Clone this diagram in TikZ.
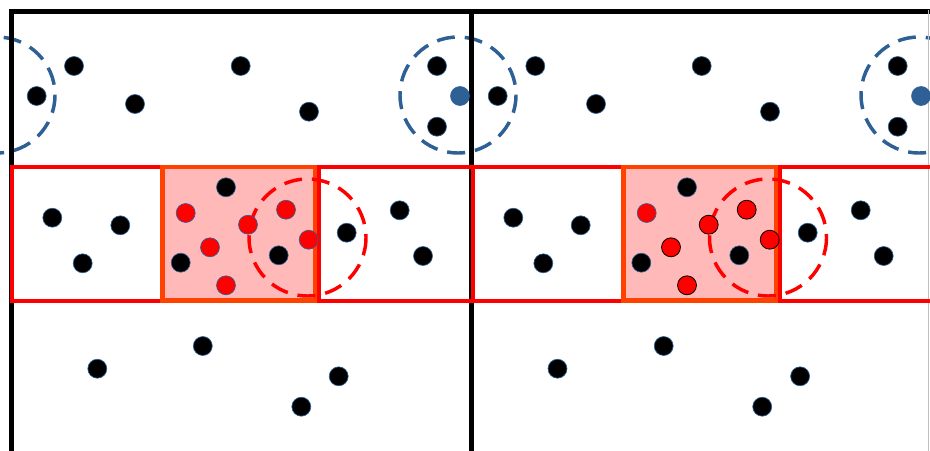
\documentclass[tikz,border=0pt]{standalone}
\usetikzlibrary{calc}
\definecolor{dotblue}{HTML}{2E6096}
\definecolor{bandred}{HTML}{FF0000}
\definecolor{midedge}{HTML}{FF4200}
\definecolor{midfill}{HTML}{FFB9B9}
\tikzset{
  frameline/.style={line width=4.4pt, black},
  bandbox/.style={draw=bandred, line width=3pt},
  midbox/.style={draw=midedge, fill=midfill, line width=3.4pt},
  bluering/.style={draw=dotblue, line width=2.6pt, dash pattern=on 13.5pt off 7.5pt},
  redring/.style={draw=bandred, line width=2.6pt, dash pattern=on 13.5pt off 7.5pt},
  blackdot/.style={circle, fill=black, draw=dotblue, line width=0.5pt, inner sep=0pt, minimum size=14.2pt},
  reddot/.style={circle, fill=bandred, draw=dotblue, line width=0.5pt, inner sep=0pt, minimum size=14.2pt},
  reddotk/.style={circle, fill=bandred, draw=black, line width=0.6pt, inner sep=0pt, minimum size=14.2pt},
  bluedot/.style={circle, fill=dotblue, draw=dotblue, line width=0.5pt, inner sep=0pt, minimum size=14.2pt},
}
\begin{document}
\begin{tikzpicture}[x=0.75pt,y=-0.75pt]
\useasboundingbox (0,0) rectangle (930,450);
\clip (0,0) rectangle (930,450);
\fill[white] (0,0) rectangle (930,450);
% dashed blue rings (under the frame)
\draw[bluering] (-3,95) circle[radius=58];
\draw[bluering] (458,95) circle[radius=58];
\draw[bluering] (919,95) circle[radius=58];
% outer frame
\draw[frameline, line join=miter] (11.5,452) -- (11.5,11.5) -- (932,11.5);
\draw[frameline] (471.5,11.5) -- (471.5,452);
\draw[gray!50, line width=0.6pt] (928.8,10) -- (928.8,452);
% band, left panel
\draw[bandbox] (11.5,167) rectangle (162.5,300.5);
\draw[bandbox] (319,167) rectangle (473,300.5);
\draw[midbox] (162.5,167) rectangle (315,300.5);
% band, right panel
\draw[bandbox] (473,167) rectangle (623.5,300.5);
\draw[bandbox] (780,167) rectangle (934,300.5);
\draw[midbox] (623.5,167) rectangle (776,300.5);
% dashed red rings
\draw[redring] (307.5,237.5) circle[radius=58.5];
\draw[redring] (768,237.5) circle[radius=58.5];
% left panel, top
\node[blackdot] (la1) at (74,66) {};
\node[blackdot] (la2) at (36.7,96) {};
\node[blackdot] (la3) at (135,104) {};
\node[blackdot] (la4) at (240.7,66) {};
\node[blackdot] (la5) at (309,111.7) {};
\node[blackdot] (la6) at (437,66) {};
\node[blackdot] (la7) at (437,126.7) {};
\node[bluedot] (lb1) at (460,96) {};
% left panel, band
\node[blackdot] (lc1) at (52.3,217.7) {};
\node[blackdot] (lc2) at (120.3,225.3) {};
\node[blackdot] (lc3) at (82.7,263.3) {};
\node[blackdot] (lc4) at (226,187.3) {};
\node[blackdot] (lc5) at (180.7,262.7) {};
\node[blackdot] (lc6) at (278.7,255.3) {};
\node[blackdot] (lc7) at (346.7,232.7) {};
\node[blackdot] (lc8) at (399.7,210.3) {};
\node[blackdot] (lc9) at (423,256) {};
\node[reddot] (lr1) at (185.7,213) {};
\node[reddot] (lr2) at (248,224.7) {};
\node[reddot] (lr3) at (286,209.7) {};
\node[reddot] (lr4) at (210,247.3) {};
\node[reddot] (lr5) at (308.7,239.7) {};
\node[reddot] (lr6) at (226,285.3) {};
% left panel, bottom
\node[blackdot] (ld1) at (97.3,368.7) {};
\node[blackdot] (ld2) at (202.8,346) {};
\node[blackdot] (ld3) at (338.7,376.3) {};
\node[blackdot] (ld4) at (301.3,406.7) {};
% right panel, top
\node[blackdot] (ra1) at (535.3,66) {};
\node[blackdot] (ra2) at (497.7,96) {};
\node[blackdot] (ra3) at (596,104) {};
\node[blackdot] (ra4) at (701.7,66) {};
\node[blackdot] (ra5) at (770,111.7) {};
\node[blackdot] (ra6) at (897.7,66) {};
\node[blackdot] (ra7) at (897.7,126.7) {};
\node[bluedot] (rb1) at (921,96) {};
% right panel, band
\node[blackdot] (rc1) at (513.3,217.7) {};
\node[blackdot] (rc2) at (580.7,225.3) {};
\node[blackdot] (rc3) at (543.3,263.3) {};
\node[blackdot] (rc4) at (687,187.3) {};
\node[blackdot] (rc5) at (641.3,262.7) {};
\node[blackdot] (rc6) at (739.3,255.3) {};
\node[blackdot] (rc7) at (807.7,232.7) {};
\node[blackdot] (rc8) at (860.7,210.3) {};
\node[blackdot] (rc9) at (883.7,256) {};
\node[reddot] (rr1) at (646.7,213) {};
\node[reddotk] (rr2) at (708.7,224.7) {};
\node[reddotk] (rr3) at (746.7,209.7) {};
\node[reddotk] (rr4) at (671,247.3) {};
\node[reddotk] (rr5) at (769.7,239.7) {};
\node[reddotk] (rr6) at (687,285.3) {};
% right panel, bottom
\node[blackdot] (rd1) at (557.5,368.7) {};
\node[blackdot] (rd2) at (663.7,346) {};
\node[blackdot] (rd3) at (800.1,376.3) {};
\node[blackdot] (rd4) at (762.2,406.7) {};
\end{tikzpicture}
\end{document}
